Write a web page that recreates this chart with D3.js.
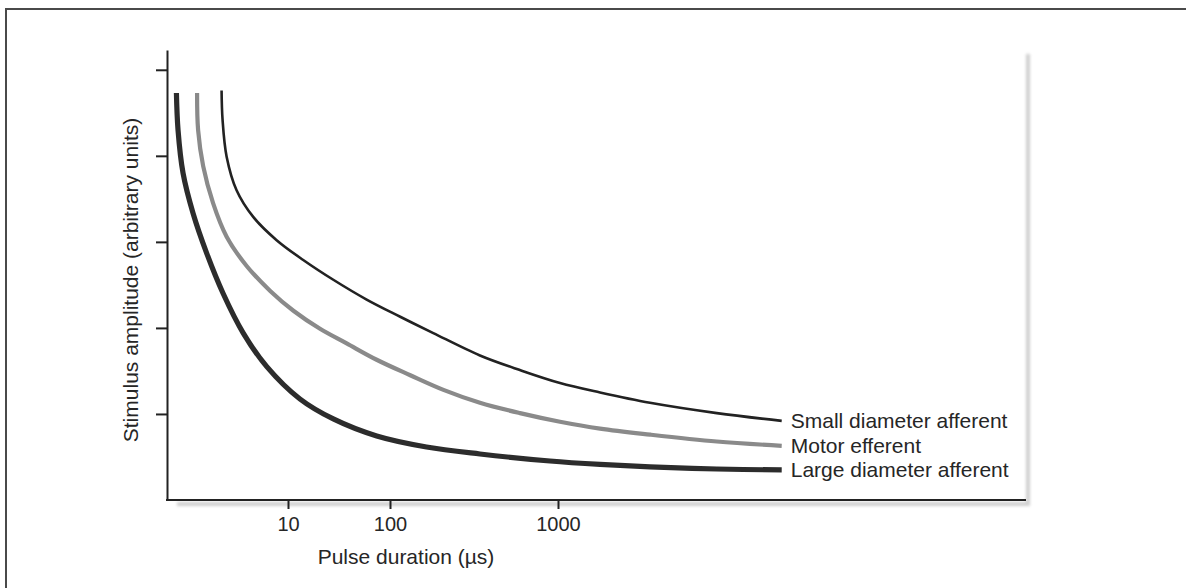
<!DOCTYPE html>
<html>
<head>
<meta charset="utf-8">
<script src="https://cdn.jsdelivr.net/npm/d3@7"></script>
<style>
  body { margin: 0; background: #fff; }
  text { font-family: "Liberation Sans", Arial, sans-serif; fill: #262626; }
</style>
</head>
<body>
<svg id="chart" width="1191" height="588"></svg>
<script>
// pulse duration (µs) and stimulus amplitude (arbitrary units)
var largeDur = [0.81, 0.84, 0.94, 1.18, 1.6, 2.32, 3.65, 6.2, 13.1, 27.8, 74.1, 165, 343, 896, 1780, 3530, 8830, 21500];
var largeAmp = [4.73, 4.30, 3.80, 3.33, 2.87, 2.40, 1.94, 1.55, 1.174, 0.942, 0.744, 0.616, 0.535, 0.453, 0.413, 0.384, 0.360, 0.349];

var motorDur = [1.29, 1.32, 1.48, 1.85, 2.51, 3.94, 6.7, 11.3, 20.6, 37.6, 74, 132, 208, 343, 594, 1028, 1780, 3530, 8830, 21500];
var motorAmp = [4.73, 4.30, 3.88, 3.45, 3.06, 2.72, 2.43, 2.20, 1.99, 1.82, 1.63, 1.45, 1.28, 1.13, 1.01, 0.91, 0.83, 0.76, 0.68, 0.63];

var smallDur = [2.24, 2.29, 2.51, 3.14, 4.57, 7.74, 14.1, 27.8, 59, 115, 181, 343, 594, 1028, 1780, 3530, 8830, 21500];
var smallAmp = [4.76, 4.42, 3.99, 3.60, 3.29, 3.02, 2.79, 2.56, 2.33, 2.13, 1.94, 1.68, 1.51, 1.36, 1.25, 1.13, 1.01, 0.92];

var seriesNames = ['Small diameter afferent', 'Motor efferent', 'Large diameter afferent'];
var xTicks = [10, 100, 1000];
var yTicks = [1, 2, 3, 4, 5];

var svg = d3.select('#chart');

var plotLeft = 167, plotRight = 1026, plotTop = 50, plotBottom = 500;

// outer frame of the figure
svg.append('path')
    .attr('d', 'M6,588 L6,9 L1186,9')
    .attr('fill', 'none')
    .attr('stroke', '#4a4a4a')
    .attr('stroke-width', 2);

// soft shadow of the panel
var defs = svg.append('defs');
defs.append('filter').attr('id', 'blur')
    .append('feGaussianBlur').attr('stdDeviation', 1.5);

svg.append('path')
    .attr('d', 'M' + (plotLeft + 10) + ',' + (plotBottom + 4) + ' L' + (plotRight + 2) + ',' + (plotBottom + 4) + ' L' + (plotRight + 2) + ',' + (plotTop + 4))
    .attr('fill', 'none')
    .attr('stroke', '#cfcfcf')
    .attr('stroke-width', 4)
    .attr('filter', 'url(#blur)');

// the axis in the figure is not evenly logarithmic, so the scale is piecewise
var xScale = d3.scaleLog()
    .domain([0.5, 10, 100, 1000, 30000])
    .range([155, 288, 390, 558, 806]);

var yScale = d3.scaleLinear()
    .domain([0, 5.23])
    .range([plotBottom, plotTop]);

// Y-axis
var yAxis = d3.axisLeft(yScale)
    .tickValues(yTicks)
    .tickFormat('')
    .tickSize(11)
    .tickSizeOuter(0);

var gy = svg.append('g')
    .attr('transform', 'translate(' + plotLeft + ',0)')
    .call(yAxis);
gy.selectAll('path, line').attr('stroke', '#222').attr('stroke-width', 2);

// X-axis
var xAxis = d3.axisBottom(xScale)
    .tickValues(xTicks)
    .tickFormat(d3.format('d'))
    .tickSize(9)
    .tickPadding(8);

var gx = svg.append('g')
    .attr('transform', 'translate(0,' + plotBottom + ')')
    .call(xAxis);
gx.select('.domain').remove();
gx.selectAll('line').attr('stroke', '#222').attr('stroke-width', 2);
gx.selectAll('text')
    .attr('font-size', 20)
    .attr('fill', '#262626')
    .style('font-family', '"Liberation Sans", Arial, sans-serif');

svg.append('line')
    .attr('x1', plotLeft - 1)
    .attr('x2', plotRight)
    .attr('y1', plotBottom)
    .attr('y2', plotBottom)
    .attr('stroke', '#222')
    .attr('stroke-width', 2);

// Axis labels
svg.append('text')
    .attr('x', 406)
    .attr('y', 564)
    .attr('font-size', 21)
    .attr('text-anchor', 'middle')
    .text('Pulse duration (µs)');

svg.append('text')
    .attr('transform', 'translate(138,280) rotate(-90)')
    .attr('font-size', 21)
    .attr('text-anchor', 'middle')
    .text('Stimulus amplitude (arbitrary units)');

// Curves
var series = [
    {name: seriesNames[0], dur: smallDur, amp: smallAmp, color: '#222', width: 2.6},
    {name: seriesNames[1], dur: motorDur, amp: motorAmp, color: '#8a8a8a', width: 4.2},
    {name: seriesNames[2], dur: largeDur, amp: largeAmp, color: '#2c2c2c', width: 5.2}
];

var line = d3.line()
    .x(d => xScale(d[0]))
    .y(d => yScale(d[1]))
    .curve(d3.curveCatmullRom.alpha(0.5));

series.forEach(function (s) {
    var pts = s.dur.map((d, i) => [d, s.amp[i]]);
    svg.append('path')
        .datum(pts)
        .attr('d', line)
        .attr('fill', 'none')
        .attr('stroke', s.color)
        .attr('stroke-width', s.width)
        .attr('stroke-linecap', 'butt');

    var last = pts[pts.length - 1];
    svg.append('text')
        .attr('x', xScale(last[0]) + 9)
        .attr('y', yScale(last[1]))
        .attr('dy', '0.33em')
        .attr('font-size', 21)
        .text(s.name);
});
</script>
</body>
</html>
